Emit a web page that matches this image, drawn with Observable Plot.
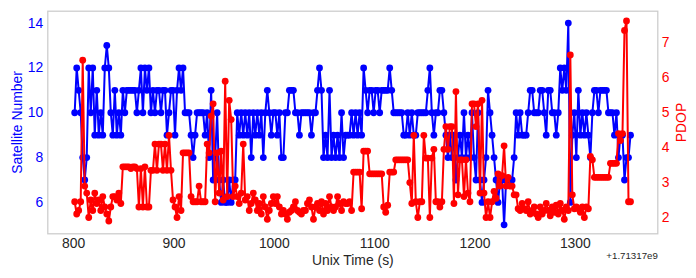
<!DOCTYPE html>
<html><head><meta charset="utf-8">
<script src="https://cdn.jsdelivr.net/npm/d3@7"></script>
<script src="https://cdn.jsdelivr.net/npm/@observablehq/plot@0.6"></script>
<style>
body{margin:0;background:#fff;}
#chart{position:relative;width:696px;height:278px;}
#chart svg{position:absolute;left:0;top:0;}
</style></head><body><div id="chart"></div>
<script>
// Sampling of the series (seconds, offset from 1.71317e9)
const timeStart = 801;
const timeStep = 2;

const satellites = [
  10, 12, 11, 10, 8, 7, 8, 12, 10, 12,
  9, 11, 9, 10, 9, 12, 13, 12, 10, 9,
  11, 9, 10, 9, 11, 10, 11, 11, 11, 11,
  11, 10, 11, 12, 10, 12, 11, 12, 10, 11,
  10, 11, 11, 10, 11, 11, 9, 10, 11, 11,
  9, 11, 12, 11, 12, 10, 10, 10, 9, 8,
  9, 10, 10, 10, 10, 9, 10, 8, 11, 7,
  8, 10, 7, 6, 7, 6, 6, 7, 6, 7,
  7, 10, 9, 10, 9, 10, 9, 10, 8, 10,
  9, 10, 9, 10, 8, 10, 11, 10, 9, 10,
  10, 9, 10, 8, 8, 10, 10, 11, 11, 11,
  10, 10, 9, 10, 10, 10, 10, 10, 9, 10,
  10, 11, 12, 11, 8, 9, 8, 11, 8, 9,
  8, 9, 8, 10, 8, 9, 9, 9, 10, 9,
  10, 9, 10, 9, 12, 11, 10, 11, 11, 10,
  11, 11, 10, 11, 11, 11, 11, 12, 11, 10,
  10, 10, 10, 10, 9, 9, 10, 9, 10, 9,
  9, 10, 10, 10, 10, 10, 11, 12, 10, 9,
  10, 10, 11, 11, 10, 9, 8, 9, 8, 9,
  7, 8, 9, 8, 10, 8, 9, 8, 10, 8,
  7, 10, 7, 6, 7, 8, 11, 10, 9, 8,
  7, 6, 7, 7, 5, 7, 7, 7, 7, 8,
  10, 9, 10, 9, 9, 9, 10, 11, 11, 10,
  10, 10, 11, 11, 10, 9, 11, 11, 10, 10,
  9, 10, 12, 11, 12, 11, 14, 6, 9, 10,
  8, 11, 9, 10, 9, 10, 9, 8, 10, 11,
  11, 10, 11, 11, 11, 11, 10, 10, 10, 9,
  10, 8, 9, 9, 7, 8, 8, 9
];

const pdop = [
  2.45, 2.1, 2.2, 2.45, 6.5, 2.9, 2.7, 2.0, 2.5, 2.2,
  2.7, 2.4, 2.5, 2.2, 2.6, 2.3, 2.1, 1.9, 2.3, 2.6,
  2.6, 2.5, 2.7, 2.4, 3.45, 3.45, 3.45, 3.45, 3.4, 3.45,
  3.45, 3.4, 2.3, 3.4, 2.3, 3.45, 2.3, 2.3, 3.35, 3.35,
  4.1, 3.35, 4.1, 4.1, 3.35, 4.1, 3.35, 4.35, 3.35, 2.5,
  2.3, 2.0, 2.6, 2.2, 3.85, 3.85, 3.85, 3.85, 2.6, 2.45,
  2.45, 2.45, 2.9, 2.45, 2.45, 2.45, 4.1, 3.85, 4.9, 5.25,
  2.45, 3.85, 2.7, 3.9, 2.5, 5.9, 2.6, 5.35, 4.8, 2.6,
  2.9, 2.6, 2.4, 2.7, 4.1, 2.5, 2.6, 2.2, 2.4, 2.7,
  2.5, 2.2, 2.4, 2.1, 2.6, 2.3, 1.95, 2.2, 2.4, 2.6,
  2.4, 2.6, 2.3, 2.1, 2.2, 2.1, 1.95, 2.15, 2.2, 2.3,
  2.45, 2.2, 2.15, 2.1, 2.2, 2.2, 2.4, 2.5, 2.3, 1.95,
  2.3, 2.4, 2.2, 2.45, 2.1, 2.4, 2.2, 2.6, 2.3, 2.2,
  2.3, 2.6, 2.4, 2.2, 2.45, 2.4, 2.4, 2.45, 2.2, 3.3,
  3.3, 3.3, 3.3, 2.25, 3.9, 3.9, 3.9, 3.25, 3.25, 3.25,
  3.25, 3.25, 3.25, 3.25, 2.3, 2.15, 2.35, 3.3, 3.3, 3.3,
  3.65, 3.65, 3.65, 3.65, 3.65, 3.65, 3.65, 3.0, 2.4, 4.35,
  2.45, 2.0, 2.45, 2.45, 4.35, 3.7, 3.7, 2.0, 3.7, 3.95,
  2.45, 2.45, 2.3, 2.45, 3.95, 4.6, 3.95, 4.6, 4.6, 2.4,
  5.6, 2.65, 3.65, 3.65, 2.6, 3.65, 2.7, 2.45, 5.25, 5.25,
  4.6, 5.25, 2.7, 5.35, 2.7, 2.0, 2.45, 2.0, 2.45, 2.75,
  2.55, 3.25, 2.9, 3.2, 4.05, 2.9, 3.15, 2.9, 2.9, 2.65,
  2.65, 2.25, 2.2, 2.4, 2.25, 2.2, 2.45, 2.1, 2.2, 2.3,
  2.1, 2.0, 2.3, 2.1, 2.2, 2.4, 2.2, 2.05, 2.3, 2.15,
  2.35, 2.1, 2.4, 2.2, 1.95, 2.3, 2.2, 6.65, 2.65, 2.25,
  2.3, 2.25, 2.15, 2.3, 2.0, 2.3, 2.25, 3.75, 3.65, 3.15,
  3.15, 3.15, 3.15, 3.15, 3.15, 3.15, 3.15, 3.55, 3.55, 3.55,
  3.55, 4.4, 4.2, 4.4, 7.35, 7.62, 2.45, 2.45
];

const xTicks = [800, 900, 1000, 1100, 1200, 1300];
const satTicks = [6, 8, 10, 12, 14];
const pdopTicks = [2, 3, 4, 5, 6, 7];
const xLabel = "Unix Time (s)";
const satLabel = "Satellite Number";
const pdopLabel = "PDOP";
const offsetLabel = "+1.71317e9";

const rows = satellites.map((s, i) => ({time: timeStart + i * timeStep, sat: s, pdop: pdop[i]}));

const W = 696, H = 278;
const margins = {marginLeft: 47.3, marginRight: 38.7, marginTop: 10.7, marginBottom: 44.7};
const xDomain = [774.2, 1382.2];
const font = {fontFamily: "'Liberation Sans', Arial, sans-serif", fontSize: "13.9px", background: "transparent", overflow: "visible"};
const BLUE = "#0000ff", RED = "#ff0000", DARK = "#262626";
const plain = d => String(d);

const left = Plot.plot({
  width: W, height: H, ...margins,
  style: font,
  x: {domain: xDomain},
  y: {domain: [4.6, 14.53]},
  marks: [
    Plot.frame({stroke: "#cccccc", strokeWidth: 1.25}),
    Plot.axisX({ticks: xTicks, tickFormat: plain, tickSize: 0, tickPadding: 4, color: DARK,
      label: xLabel, labelAnchor: "center", labelArrow: "none", labelOffset: 31}),
    Plot.axisY({ticks: satTicks, tickFormat: plain, tickSize: 0, tickPadding: 4.5, color: BLUE,
      label: satLabel, labelAnchor: "center", labelArrow: "none", labelOffset: 36}),
    Plot.line(rows, {x: "time", y: "sat", stroke: BLUE, strokeWidth: 2}),
    Plot.dot(rows, {x: "time", y: "sat", r: 3.4, fill: BLUE, stroke: "none"}),
    Plot.text([offsetLabel], {frameAnchor: "bottom-right", dy: 25, textAnchor: "end", fontSize: 9.7, fill: DARK})
  ]
});

const right = Plot.plot({
  width: W, height: H, ...margins,
  style: font,
  x: {domain: xDomain, axis: null},
  y: {domain: [1.534, 7.9], axis: null},
  marks: [
    Plot.axisY({anchor: "right", ticks: pdopTicks, tickFormat: plain, tickSize: 0, tickPadding: 4, color: RED,
      label: pdopLabel, labelAnchor: "center", labelArrow: "none", labelOffset: 28}),
    Plot.line(rows, {x: "time", y: "pdop", stroke: RED, strokeWidth: 2}),
    Plot.dot(rows, {x: "time", y: "pdop", r: 3.4, fill: RED, stroke: "none"})
  ]
});

const chart = document.getElementById("chart");
chart.appendChild(left);
chart.appendChild(right);
</script></body></html>
